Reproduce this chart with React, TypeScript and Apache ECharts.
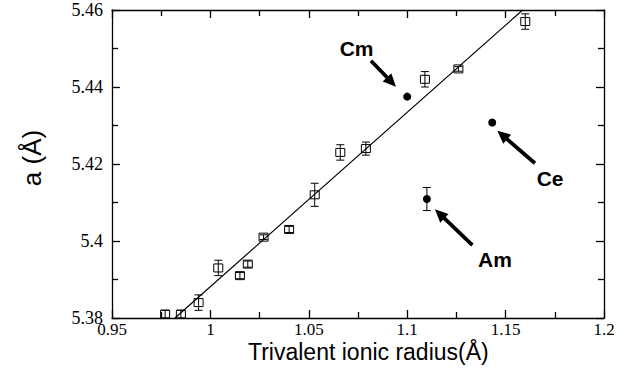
import React, { useEffect, useRef } from "react";
import * as echarts from "echarts";

// Open squares (lanthanide series) with error bars
const sqX = [0.977, 0.985, 0.994, 1.004, 1.015, 1.019, 1.027, 1.04, 1.053, 1.066, 1.079, 1.109, 1.126, 1.16];
const sqY = [5.381, 5.381, 5.384, 5.393, 5.391, 5.394, 5.401, 5.403, 5.412, 5.423, 5.424, 5.442, 5.4447, 5.457];
const sqErr = [0.001, 0.001, 0.002, 0.002, 0.0008, 0.0008, 0.0006, 0.0008, 0.003, 0.002, 0.0017, 0.002, 0.0006, 0.002];

// Filled circles
const dotNames = ["Cm", "Ce", "Am"];
const dotX = [1.1, 1.1432, 1.11];
const dotY = [5.4375, 5.4308, 5.4109];
const dotErr = [0, 0, 0.003];

// Linear fit
const fitX = [0.982, 1.1587];
const fitY = [5.38, 5.46];

// Annotations (data coordinates)
const annLabelX = [1.0743, 1.1726, 1.1446];
const annLabelY = [5.4499, 5.4163, 5.3951];
const arrowFromX = [1.0816, 1.1649, 1.1331];
const arrowFromY = [5.44683, 5.4202, 5.39896];
const arrowToX = [1.0943, 1.1458, 1.1141];
const arrowToY = [5.44008, 5.42865, 5.40823];

// Axes
const xMin = 0.95, xMax = 1.2, xStep = 0.05;
const yMin = 5.38, yMax = 5.46, yStep = 0.02;

const serif = "Liberation Serif";
const sans = "Liberation Sans";

export default function App() {
  const ref = useRef<HTMLDivElement>(null);
  useEffect(() => {
    document.body.style.margin = "0";
    const chart = echarts.init(ref.current!, null, { renderer: "svg" });
    const axisCommon = {
      axisLine: { show: true, lineStyle: { color: "#000", width: 1.3 } },
      axisTick: { show: true, inside: true, length: 8, lineStyle: { color: "#000", width: 1.3 } },
      minorTick: { show: true, splitNumber: 2, length: 6, lineStyle: { color: "#000", width: 1.3 } },
      splitLine: { show: false },
    };
    const errRender = (w: number, circle: boolean) => (params: any, api: any) => {
      const x = api.value(0), y = api.value(1), e = api.value(2);
      const p = api.coord([x, y]);
      const top = api.coord([x, y + e]);
      const bot = api.coord([x, y - e]);
      const children: any[] = [];
      if (e > 0) {
        children.push(
          { type: "line", shape: { x1: p[0], y1: top[1], x2: p[0], y2: bot[1] }, style: { stroke: "#000", lineWidth: 1 } },
          { type: "line", shape: { x1: p[0] - 4, y1: top[1], x2: p[0] + 4, y2: top[1] }, style: { stroke: "#000", lineWidth: 1 } },
          { type: "line", shape: { x1: p[0] - 4, y1: bot[1], x2: p[0] + 4, y2: bot[1] }, style: { stroke: "#000", lineWidth: 1 } }
        );
      }
      if (circle) {
        children.push({ type: "circle", shape: { cx: p[0], cy: p[1], r: 4 }, style: { fill: "#000" } });
      } else {
        children.push({ type: "rect", shape: { x: p[0] - w / 2, y: p[1] - 4, width: w, height: 8 }, style: { fill: "none", stroke: "#000", lineWidth: 1 } });
      }
      return { type: "group", children };
    };
    chart.setOption({
      animation: false,
      grid: { left: 112, right: 29, top: 10, bottom: 66, containLabel: false },
      xAxis: [
        {
          type: "value", min: xMin, max: xMax, interval: xStep, position: "bottom",
          ...axisCommon,
          axisLabel: { color: "#000", fontFamily: serif, fontSize: 17, lineHeight: 12, margin: 5 },
        },
        {
          type: "value", min: xMin, max: xMax, interval: xStep, position: "top",
          ...axisCommon, axisLabel: { show: false },
        },
      ],
      yAxis: [
        {
          type: "value", min: yMin, max: yMax, interval: yStep, position: "left",
          ...axisCommon,
          axisLabel: { color: "#000", fontFamily: serif, fontSize: 18, lineHeight: 12, margin: 9 },
        },
        {
          type: "value", min: yMin, max: yMax, interval: yStep, position: "right",
          ...axisCommon, axisLabel: { show: false },
        },
      ],
      graphic: [
        {
          type: "text", left: 248, top: 340,
          style: { text: "Trivalent ionic radius(Å)", fontFamily: sans, fontSize: 23, fill: "#000" },
        },
        {
          type: "text", x: 32, y: 158, rotation: Math.PI / 2,
          style: { text: "a (Å)", fontFamily: sans, fontSize: 26, fill: "#000", align: "center", verticalAlign: "middle" },
        },
      ],
      series: [
        {
          type: "line", data: fitX.map((x, i) => [x, fitY[i]]), symbol: "none",
          lineStyle: { color: "#000", width: 1.2 }, silent: true,
        },
        {
          type: "custom", clip: false,
          data: sqX.map((x, i) => [x, sqY[i], sqErr[i]]),
          renderItem: errRender(9, false),
        },
        {
          type: "custom", clip: false,
          data: dotX.map((x, i) => [x, dotY[i], dotErr[i]]),
          renderItem: errRender(8, true),
        },
        {
          type: "custom", clip: false,
          data: dotNames.map((n, i) => [annLabelX[i], annLabelY[i], arrowFromX[i], arrowFromY[i], arrowToX[i], arrowToY[i]]),
          renderItem: (params: any, api: any) => {
            const i = params.dataIndex;
            const lp = api.coord([api.value(0), api.value(1)]);
            const f = api.coord([api.value(2), api.value(3)]);
            const t = api.coord([api.value(4), api.value(5)]);
            const dx = t[0] - f[0], dy = t[1] - f[1];
            const len = Math.sqrt(dx * dx + dy * dy);
            const ux = dx / len, uy = dy / len;
            const hl = 13, hw = 6;
            const bx = t[0] - ux * hl, by = t[1] - uy * hl;
            const nx = -uy, ny = ux;
            return {
              type: "group",
              children: [
                { type: "line", shape: { x1: f[0], y1: f[1], x2: bx + ux * 2, y2: by + uy * 2 }, style: { stroke: "#000", lineWidth: 3.8 } },
                { type: "polygon", shape: { points: [[t[0], t[1]], [bx + nx * hw, by + ny * hw], [bx - nx * hw, by - ny * hw]] }, style: { fill: "#000" } },
                {
                  type: "text", x: lp[0], y: lp[1],
                  style: { text: dotNames[i], fontFamily: sans, fontWeight: "bold", fontSize: 21, fill: "#000", align: "center", verticalAlign: "middle" },
                },
              ],
            };
          },
        },
      ],
    });
    return () => chart.dispose();
  }, []);
  return <div ref={ref} style={{ width: 633, height: 384 }} />;
}
